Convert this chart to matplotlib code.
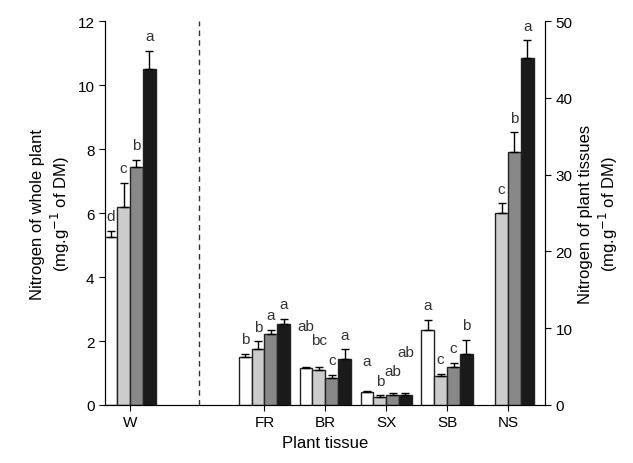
import matplotlib
matplotlib.use("Agg")
import matplotlib.pyplot as plt
import numpy as np

plt.rcParams['font.family'] = ['Liberation Sans', 'DejaVu Sans']

tissues = ["FR", "BR", "SX", "SB", "NS"]
# whole plant (left axis, mg/g)
w_vals = [5.25, 6.2, 7.45, 10.5]
w_err = [0.2, 0.75, 0.2, 0.55]
w_let = ["d", "c", "b", "a"]
# tissues (right axis, mg/g)
t_vals = [[6.25, 7.3, 9.2, 10.6],
          [4.8, 4.6, 3.5, 6.0],
          [1.75, 1.05, 1.3, 1.3],
          [9.8, 3.75, 5.0, 6.7],
          [np.nan, 25.0, 33.0, 45.2]]
t_err = [[0.4, 1.0, 0.6, 0.6],
         [0.1, 0.4, 0.4, 1.25],
         [0.1, 0.2, 0.25, 0.2],
         [1.25, 0.3, 0.5, 1.75],
         [0, 1.25, 2.5, 2.3]]
t_let = [["b", "b", "a", "a"],
         ["ab", "bc", "c", "a"],
         ["a", "b", "ab", "ab"],
         ["a", "c", "c", "b"],
         ["", "c", "b", "a"]]
# extra lift of letters (right-axis units) to stagger crowded labels
t_lift = [[0, 0, 0, 0],
          [3.5, 1.5, 0, 0],
          [2.0, 0, 1.0, 3.5],
          [0, 0, 0, 0],
          [0, 0, 0, 0]]
colors = ["white", "#cccccc", "#888888", "#1a1a1a"]

fig = plt.figure(figsize=(6.33, 4.64), dpi=100)
ax = fig.add_axes([105/633, 58/464, 440/633, 384/464])
ax2 = ax.twinx()
bw = 0.215
offs = (np.arange(4) - 1.5) * bw
ek = dict(ecolor="black", capsize=3, elinewidth=1)
for i in range(4):
    ax.bar(0 + offs[i], w_vals[i], bw, color=colors[i], edgecolor="#222222", lw=1,
           yerr=[[0], [w_err[i]]], error_kw=ek)
    ax.text(0 + offs[i], w_vals[i] + w_err[i] + 0.25, w_let[i], ha="center", va="bottom", fontsize=11, color="#333333")
pos = np.array([2.25, 3.27, 4.29, 5.31, 6.33])
for g in range(5):
    for i in range(4):
        v = t_vals[g][i]
        if np.isnan(v):
            continue
        ax2.bar(pos[g] + offs[i], v, bw, color=colors[i], edgecolor="#222222", lw=1,
                yerr=[[0], [t_err[g][i]]], error_kw=ek)
        ax2.text(pos[g] + offs[i], v + t_err[g][i] + 1.0 + t_lift[g][i], t_let[g][i],
                 ha="center", va="bottom", fontsize=11, color="#333333")
ax.axvline(1.15, color="#333333", ls=(0, (4, 3)), lw=1)
ax.set_xlim(-0.42, 6.95)
ax.set_ylim(0, 12)
ax2.set_ylim(0, 50)
ax.set_yticks(range(0, 13, 2))
ax2.set_yticks(range(0, 51, 10))
ax.set_xticks([0] + list(pos))
ax.set_xticklabels(["W"] + tissues)
for a in (ax, ax2):
    a.tick_params(labelsize=11, direction="out", length=4)
    a.spines['top'].set_visible(False)
ax.set_xlabel("Plant tissue", fontsize=12)
ax.set_ylabel("Nitrogen of whole plant\n(mg.g$^{-1}$ of DM)", fontsize=12)
ax2.set_ylabel("Nitrogen of plant tissues\n(mg.g$^{-1}$ of DM)", fontsize=12)
fig.savefig("out.png", dpi=100)
